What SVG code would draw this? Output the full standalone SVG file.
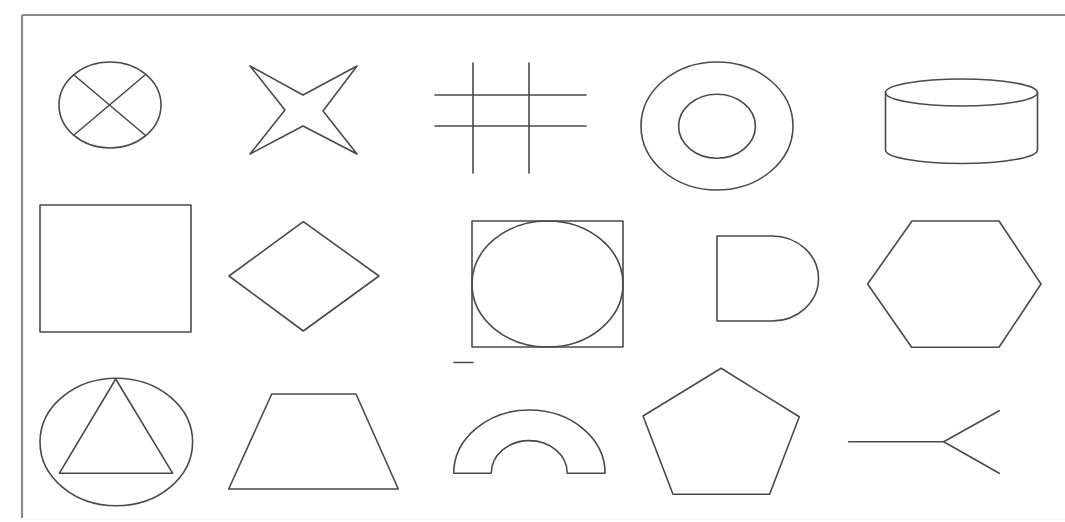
<svg xmlns="http://www.w3.org/2000/svg" width="1065" height="522" viewBox="0 0 1065 522">
<style>
.s{fill:none;stroke:#4a4a4a;stroke-width:1.6;stroke-linejoin:round;stroke-linecap:round}
.f{fill:none;stroke:#8a8a8a;stroke-width:2.2}
</style>
<rect width="1065" height="522" fill="#ffffff"/>
<g id="frame">
<path class="f" d="M22 15 H1065 M22 15 V518"/>
<path d="M22 519 H1065" stroke="#f2f2f2" stroke-width="1"/>
</g>
<g id="circle-x" class="s">
<ellipse cx="110" cy="105" rx="51" ry="43"/>
<path d="M74 75 L145 135 M145 75 L74 135"/>
</g>
<g id="star4" class="s">
<path d="M250 66 L303 95 L357 66 L323 111 L357 154 L303 126 L250 154 L285 110 Z"/>
</g>
<g id="hash" class="s">
<path d="M435 95 H586 M435 126 H586 M473 63 V173 M529 63 V173"/>
</g>
<g id="ring" class="s">
<ellipse cx="717" cy="126" rx="76" ry="64"/>
<ellipse cx="717" cy="126.3" rx="38.4" ry="32"/>
</g>
<g id="cylinder" class="s">
<ellipse cx="961.5" cy="92.5" rx="76" ry="13.5"/>
<path d="M885.5 92.5 V150 A76 13.5 0 0 0 1037.5 150 V92.5"/>
</g>
<g id="square" class="s">
<rect x="40" y="205" width="151" height="127"/>
</g>
<g id="diamond" class="s">
<path d="M229 276 L303.3 221.7 L379 276 L303.3 331 Z"/>
</g>
<g id="circle-in-square" class="s">
<rect x="472" y="221" width="151" height="126"/>
<ellipse cx="547.5" cy="284" rx="75.5" ry="63"/>
</g>
<g id="dash" class="s">
<path d="M454 362.5 H473"/>
</g>
<g id="d-shape" class="s">
<path d="M717 236 H772 A46.5 42.5 0 0 1 772 321 H717 Z"/>
</g>
<g id="hexagon" class="s">
<path d="M912 221 H999 L1041 284 L999 347.3 H911.6 L867.6 284 Z"/>
</g>
<g id="circle-triangle" class="s">
<ellipse cx="116.3" cy="442" rx="76.3" ry="63.7"/>
<path d="M115.7 379 L172.7 473.3 H59.3 Z"/>
</g>
<g id="trapezoid" class="s">
<path d="M271.7 394 H356 L398.3 489 H228.7 Z"/>
</g>
<g id="arch" class="s">
<path d="M453.7 473.3 A75.7 63.3 0 0 1 605.1 473.3 H567.3 A38 32.6 0 0 0 491.2 473.3 Z"/>
</g>
<g id="pentagon" class="s">
<path d="M721.1 368.3 L799.3 416.7 L769.6 494.3 H673 L643 416 Z"/>
</g>
<g id="fork" class="s">
<path d="M848.6 441.7 H943.7 L999.2 410.7 M943.7 441.7 L999.2 473.3"/>
</g>
</svg>
